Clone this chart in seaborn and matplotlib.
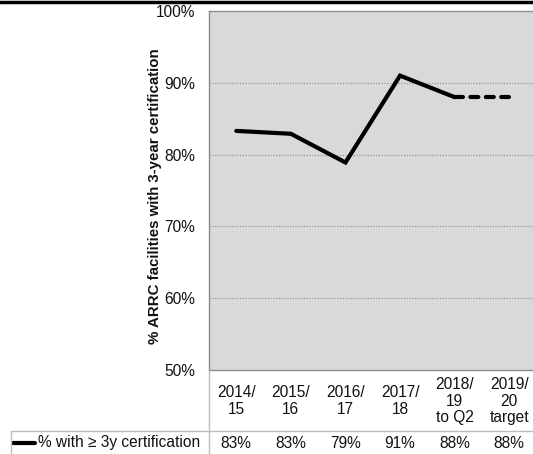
import matplotlib
matplotlib.use("Agg")
import matplotlib.pyplot as plt
import matplotlib.transforms as mtransforms
from matplotlib.lines import Line2D
import pandas as pd
import seaborn as sns

# Data
periods = ["2014/\n15", "2015/\n16", "2016/\n17", "2017/\n18", "2018/\n19\nto Q2", "2019/\n20\ntarget"]
pct_certified = [83.3, 82.9, 78.9, 91.0, 88.0, 88.0]
series_name = "% with \u2265 3y certification"
y_ticks = [50, 60, 70, 80, 90, 100]

W, H = 533, 454
sns.set_theme(style="white")
plt.rcParams["font.family"] = ["Liberation Sans", "DejaVu Sans"]

fig = plt.figure(figsize=(W / 100, H / 100), dpi=100)
fig.patch.set_facecolor("white")

def fx(px):
    return px / W

def fy(py):
    return 1 - py / H

FS = 11.2
LW = 3.0

ax_left, ax_right, ax_top, ax_bottom = 209, 536.5, 11, 370
ax = fig.add_axes([fx(ax_left), fy(ax_bottom), fx(ax_right - ax_left), (ax_bottom - ax_top) / H])
ax.set_facecolor("#d9d9d9")

df = pd.DataFrame({"pos": range(len(periods)), "value": pct_certified})
actual = df.iloc[:5]
target = df.iloc[4:]
sns.lineplot(data=actual, x="pos", y="value", ax=ax, color="black", linewidth=LW,
             solid_capstyle="round", solid_joinstyle="miter")
sns.lineplot(data=target, x="pos", y="value", ax=ax, color="black", linewidth=LW,
             linestyle=(0, (1.9, 1.8)), dash_capstyle="round")

ax.set_xlim(-0.5, len(periods) - 0.5)
ax.set_ylim(50, 100)
ax.set_yticks(y_ticks)
ax.set_yticklabels([f"{t}%" for t in y_ticks], fontsize=FS, color="#111111")
ax.tick_params(axis="y", length=0, pad=10)
ax.set_xticks([])
ax.set_xlabel("")
ax.set_ylabel("% ARRC facilities with 3-year certification", fontsize=10.8, fontweight="bold",
              color="#111111")
ax.yaxis.set_label_coords(-0.145, 0.485)

for t in y_ticks[1:-1]:
    ax.axhline(t, color="#8c8c8c", linewidth=0.8, linestyle=(0, (1, 1.5)), zorder=1)

for side in ["top", "left", "bottom"]:
    ax.spines[side].set_visible(True)
    ax.spines[side].set_color("#8c8c8c")
    ax.spines[side].set_linewidth(1.0)
ax.spines["right"].set_visible(False)

# Data table beneath the axes
trans = mtransforms.blended_transform_factory(ax.transData, fig.transFigure)
for i, lab in enumerate(periods):
    ax.text(i, fy(401), lab, transform=trans, ha="center", va="center", fontsize=FS,
            linespacing=1.15, color="#111111", clip_on=False)
    ax.text(i, fy(443), f"{pct_certified[i]:.0f}%", transform=trans, ha="center",
            va="center", fontsize=FS, color="#111111", clip_on=False)

fig.text(fx(38), fy(443), series_name, ha="left", va="center", fontsize=FS, color="#111111")
fig.add_artist(Line2D([fx(13), fx(35)], [fy(443), fy(443)], color="black", linewidth=LW,
                      transform=fig.transFigure))

grid_c = "#bdbdbd"
fig.add_artist(Line2D([fx(209), fx(209)], [fy(370), fy(454)], color=grid_c, linewidth=1.0,
                      transform=fig.transFigure))
fig.add_artist(Line2D([fx(11), fx(533)], [fy(431), fy(431)], color=grid_c, linewidth=1.0,
                      transform=fig.transFigure))
fig.add_artist(Line2D([fx(11), fx(11)], [fy(431), fy(454)], color=grid_c, linewidth=1.0,
                      transform=fig.transFigure))

# Heavy rule across the top of the page
fig.add_artist(Line2D([0, 1], [fy(1.5), fy(1.5)], color="black", linewidth=2.5,
                      transform=fig.transFigure))

fig.savefig("out.png", dpi=100)
